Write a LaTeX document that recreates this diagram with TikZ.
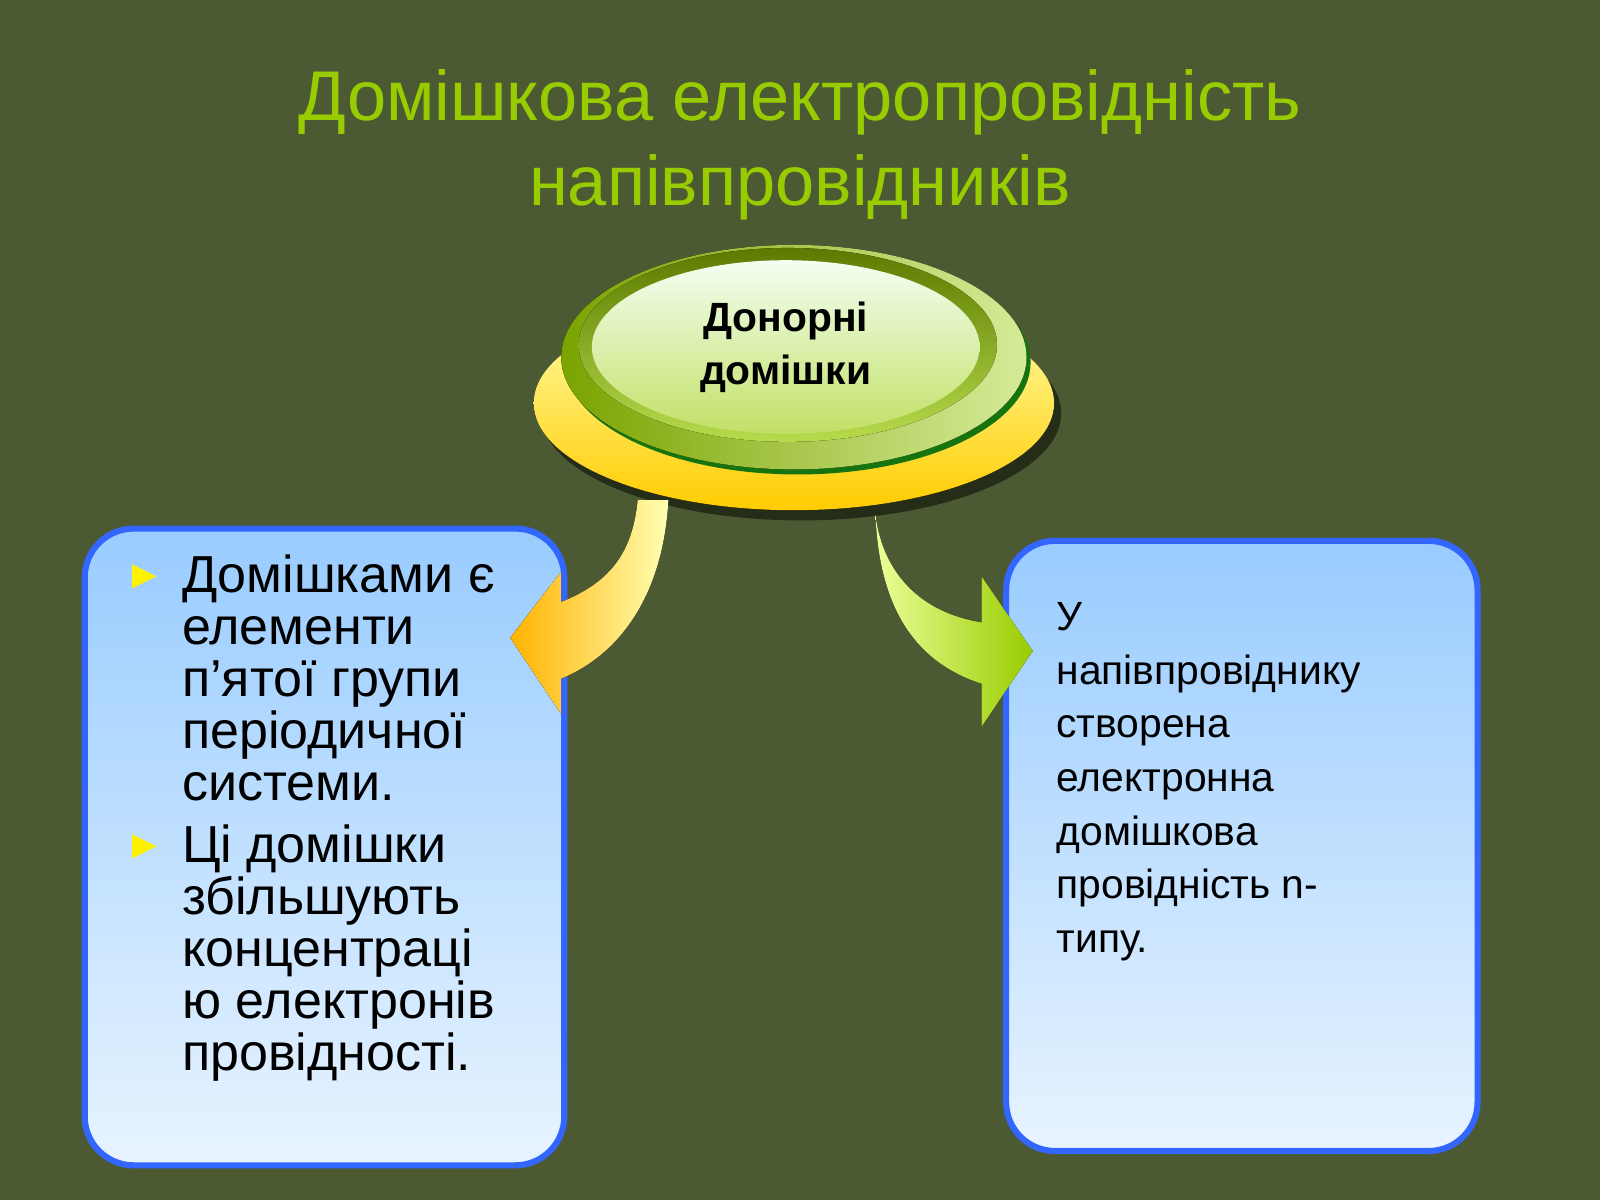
\documentclass[tikz,border=0pt]{standalone}
\usepackage{fontspec}
\setmainfont{Liberation Sans}
\usetikzlibrary{shapes.geometric}
\definecolor{bg}{HTML}{4B5A32}
\definecolor{ttl}{HTML}{99CC00}
\definecolor{bord}{HTML}{3366FF}
\definecolor{btop}{HTML}{99CCFF}
\definecolor{bbot}{HTML}{E8F4FF}
\tikzset{
 box/.style={draw=bord,line width=3pt,rounded corners=24pt,top color=btop,bottom color=bbot},
 txt/.style={align=left,anchor=north west,inner sep=0pt}
}
\begin{document}
\begin{tikzpicture}[x=0.5pt,y=-0.5pt]
\fill[bg] (0,0) rectangle (1568,1176);
\useasboundingbox (0,0) rectangle (1568,1176);
\node[text=ttl,font=\fontsize{34.5}{42}\selectfont,align=center] (title) at (784,142) {Домішкова електропровідність\\напівпровідників};
% ellipses
\fill[black!50!bg] (785,405) ellipse [x radius=255,y radius=105];
\fill[top color=yellow!30!white,bottom color=orange!40!yellow] (778,395) ellipse [x radius=255,y radius=105];
\fill[green!50!black!70!bg] (782,355) ellipse [x radius=228,y radius=110];
\fill[left color=ttl!80!black,right color=ttl!40!white] (778,350) ellipse [x radius=228,y radius=110];
\fill[top color=ttl!60!black,bottom color=ttl!70!white] (772,338) ellipse [x radius=205,y radius=95];
\node[ellipse,minimum width=190pt,minimum height=85pt,inner sep=0pt,top color=white!95!green,bottom color=ttl!60!white,font=\fontsize{20}{26}\selectfont\bfseries,align=center] (don) at (770,340) {Донорні\\домішки};
% boxes
\node[box,minimum width=235pt,minimum height=312pt,anchor=north west] (lb) at (80,515) {};
\node[box,minimum width=231pt,minimum height=299pt,anchor=north west] (rb) at (983,527) {};
% arrows
\fill[left color=orange!60!yellow,right color=yellow!30!white] (655,490) .. controls (650,580) and (610,640) .. (550,665) -- (550,700) -- (500,625) -- (550,560) -- (550,590) .. controls (600,570) and (620,540) .. (625,490) -- cycle;
\fill[left color=green!20!yellow!40!white,right color=ttl] (858,505) .. controls (865,560) and (900,600) .. (962,610) -- (962,565) -- (1012,638) -- (962,712) -- (962,670) .. controls (900,650) and (862,600) .. (858,505) -- cycle;
% left text
\node[txt,text=orange!10!yellow,font=\fontsize{20}{20}\selectfont] (b1) at (122,553) {►};
\node[txt,text=orange!10!yellow,font=\fontsize{20}{20}\selectfont] (b2) at (122,818) {►};
\node[txt,font=\fontsize{25.5}{25.5}\selectfont] (t1) at (178,543) {Домішками є\\елементи\\п’ятої групи\\періодичної\\системи.};
\node[txt,font=\fontsize{25.5}{25.5}\selectfont] (t2) at (178,808) {Ці домішки\\збільшують\\концентраці\\ю електронів\\провідності.};
\node[txt,font=\fontsize{20}{26.3}\selectfont] (t3) at (1035,590) {У\\напівпровіднику\\створена\\електронна\\домішкова\\провідність n-\\типу.};
\end{tikzpicture}
\end{document}
